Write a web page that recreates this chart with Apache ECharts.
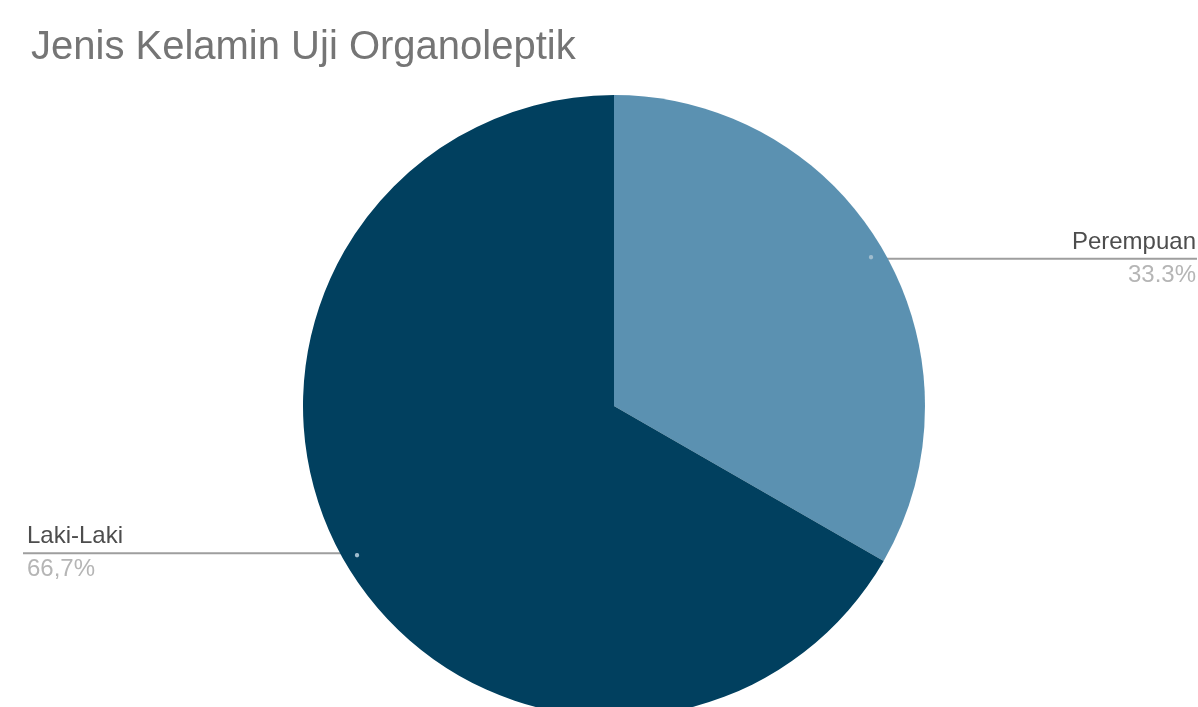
<!DOCTYPE html>
<html>
<head>
<meta charset="utf-8">
<title>Jenis Kelamin Uji Organoleptik</title>
<script src="https://cdn.jsdelivr.net/npm/echarts@6/dist/echarts.min.js"></script>
<style>
  html, body { margin: 0; padding: 0; background: #ffffff; }
  #chart { width: 1198px; height: 707px; }
</style>
</head>
<body>
<div id="chart"></div>
<script>
// Respondent gender split
const categories = ['Perempuan', 'Laki-Laki'];
const shares = [33.3, 66.7];
const shareLabels = ['33.3%', '66,7%'];
const sliceColors = ['#5b91b1', '#01405f'];

const CENTER = [614, 406];
const RADIUS = 311;
const DOT_RADIUS = 294;
const FONT = '"Liberation Sans", Arial, sans-serif';

const chart = echarts.init(document.getElementById('chart'), null, { renderer: 'canvas' });

const pieData = categories.map((name, i) => ({
  name: name,
  value: shares[i],
  itemStyle: { color: sliceColors[i] }
}));

const option = {
  backgroundColor: '#ffffff',
  animation: false,
  title: {
    text: 'Jenis Kelamin Uji Organoleptik',
    left: 26,
    top: 23,
    textStyle: {
      fontFamily: FONT,
      fontSize: 40,
      fontWeight: 'normal',
      color: '#757575'
    }
  },
  series: [
    {
      type: 'pie',
      center: CENTER,
      radius: RADIUS,
      startAngle: 90,
      clockwise: true,
      silent: true,
      data: pieData,
      itemStyle: { borderWidth: 0 },
      label: {
        show: true,
        position: 'outer',
        formatter: (p) => '{name|' + p.name + '}\n{pct|' + shareLabels[p.dataIndex] + '}',
        rich: {
          name: {
            fontFamily: FONT,
            fontSize: 24,
            color: '#4d4d4d',
            lineHeight: 33
          },
          pct: {
            fontFamily: FONT,
            fontSize: 24,
            color: '#b5b5b5',
            lineHeight: 33
          }
        }
      },
      labelLine: {
        show: true,
        lineStyle: { color: '#9e9e9e', width: 2 }
      },
      labelLayout: function (params) {
        const w = chart.getWidth();
        const edge = params.labelLinePoints[0];
        const dx = edge[0] - CENTER[0];
        const dy = edge[1] - CENTER[1];
        const len = Math.sqrt(dx * dx + dy * dy) || 1;
        const sx = CENTER[0] + dx / len * DOT_RADIUS;
        const sy = CENTER[1] + dy / len * DOT_RADIUS;
        const onRight = dx >= 0;
        const endX = onRight ? w - 1 : 23;
        return {
          x: onRight ? w - 2 : 27,
          y: sy,
          align: onRight ? 'right' : 'left',
          verticalAlign: 'middle',
          labelLinePoints: [[sx, sy], [(sx + endX) / 2, sy], [endX, sy]]
        };
      }
    },
    {
      // small marker where each label line points into its slice
      type: 'pie',
      center: CENTER,
      radius: [DOT_RADIUS - 10, DOT_RADIUS + 10],
      startAngle: 90,
      clockwise: true,
      silent: true,
      data: categories.map((name, i) => ({ name: name, value: shares[i] })),
      itemStyle: { color: 'rgba(0,0,0,0)', borderWidth: 0 },
      label: {
        show: true,
        position: 'inside',
        formatter: '●',
        fontSize: 10,
        opacity: 1,
        color: '#9fbccd'
      },
      labelLine: { show: false }
    }
  ]
};

chart.setOption(option);
</script>
</body>
</html>
